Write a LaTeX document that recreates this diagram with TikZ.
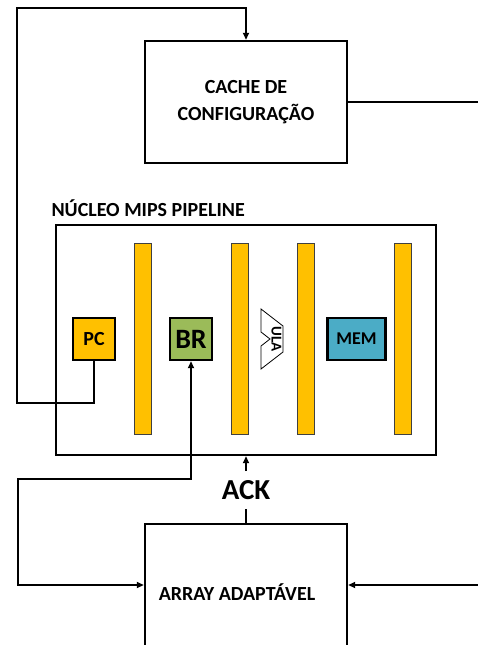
\documentclass[tikz,border=0pt]{standalone}
\usepackage{fontspec}
\setmainfont{Carlito}
\usetikzlibrary{arrows.meta,positioning}
\definecolor{regyellow}{HTML}{FFC000}
\definecolor{brgreen}{HTML}{9BBB59}
\definecolor{memblue}{HTML}{4BACC6}
\newcommand{\boldsz}[1]{\fontsize{#1}{27}\selectfont\bfseries}

\begin{document}
\begin{tikzpicture}[x=1pt,y=-1pt,>={Triangle[length=7pt,width=6pt]},
  wire/.style={line width=2.4pt},
  blk/.style={draw,line width=2.4pt,minimum width=202pt,minimum height=122pt,align=center,font=\boldsz{20}},
  unit/.style={draw,line width=2.4pt,minimum height=42pt,inner sep=0pt,font=\boldsz{20}},
  reg/.style={draw=black!75,line width=0.8pt,fill=regyellow,minimum width=17pt,minimum height=191pt,inner sep=0pt}]
\useasboundingbox (0,0) rectangle (478,645);
\node[blk] (cache) at (246,102) {CACHE DE\\CONFIGURAÇÃO};
\node[blk,minimum width=380pt,minimum height=230pt] (core) at (246,340) {};
\node[anchor=base west,font=\boldsz{20}] (corelbl) at (48,216) {NÚCLEO MIPS PIPELINE};
\foreach \x/\n in {143/r1,239.5/r2,306/r3,403/r4}
  \node[reg] (\n) at (\x,338.5) {};
\node[unit,fill=regyellow,minimum width=42pt] (pc) at (94,339) {PC};
\node[unit,fill=brgreen,minimum width=42pt,font=\boldsz{28}] (br) at (191,339) {BR};
\node[unit,fill=memblue,minimum width=58pt,font=\boldsz{18}] (mem) at (356.5,339) {MEM};
\draw[line width=0.8pt,fill=white] (261,309) -- (283,326) -- (283,352) -- (261,369) -- (261,346) -- (270,339) -- (261,332) -- cycle;
\node[rotate=-90,font=\boldsz{15}] (ula) at (276.5,339) {ULA};
\node[blk] (array) at (246,585) {};
\node[font=\boldsz{20}] (arraytxt) at (237,592) {ARRAY ADAPTÁVEL};
\node[font=\boldsz{29},inner sep=9pt] (ack) at (246,490) {ACK};
\coordinate (pcturn) at (17,403);
\coordinate (fbtop) at (17,8);
\coordinate (brturn) at (18,479);
\coordinate (outR) at (480,102);
\coordinate (inR) at (480,585);
\draw[wire,->] (pc.south) |- (pcturn) -- (fbtop) -| (cache.north);
\draw[wire,<->] (br.south) |- (brturn) |- (array.west);
\draw[wire] (cache.east) -- (outR);
\draw[wire,->] (inR) -- (array.east);
\draw[wire] (array.north) -- (ack.south);
\draw[wire,->] (ack.north) -- (core.south);
\end{tikzpicture}
\end{document}
